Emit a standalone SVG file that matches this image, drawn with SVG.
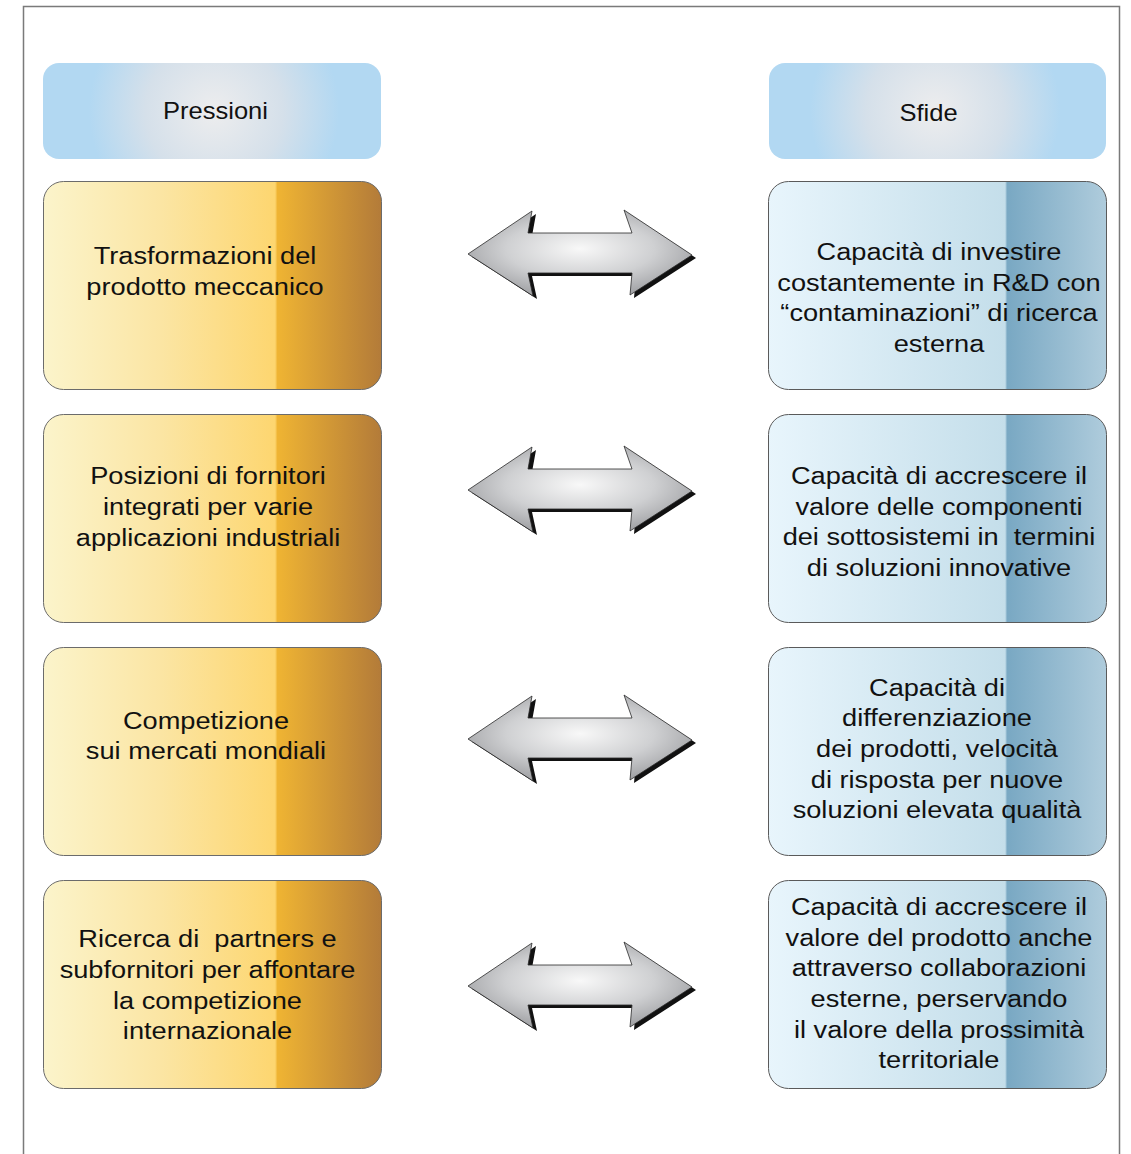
<svg xmlns="http://www.w3.org/2000/svg" xmlns:xlink="http://www.w3.org/1999/xlink" width="1131" height="1154" viewBox="0 0 1131 1154">
<defs>
  <style>
    .frame { fill: none; stroke: #7a7a7a; stroke-width: 1.5; }
    .hdr { stroke: none; }
    .pbox { fill: url(#gold); stroke: #6b6b6b; stroke-width: 1; }
    .sbox { fill: url(#blue); stroke: #5a5a5a; stroke-width: 1; }
    .txt { font-family: "Liberation Sans", Arial, sans-serif; font-size: 24.5px; fill: #111111; text-anchor: middle; white-space: pre; }
    .htxt { font-family: "Liberation Sans", Arial, sans-serif; font-size: 23px; fill: #111111; text-anchor: middle; }
    .arrow { fill: url(#steel); stroke: #2a2a2a; stroke-width: 0.8; stroke-linejoin: miter; }
    .shadow { fill: #111; }
  </style>
  <linearGradient id="gold" x1="0" y1="0" x2="1" y2="0">
    <stop offset="0" stop-color="#fbf4cb"/>
    <stop offset="0.35" stop-color="#fbe5a3"/>
    <stop offset="0.685" stop-color="#fdd670"/>
    <stop offset="0.692" stop-color="#efb433"/>
    <stop offset="1" stop-color="#b37b39"/>
  </linearGradient>
  <linearGradient id="blue" x1="0" y1="0" x2="1" y2="0">
    <stop offset="0" stop-color="#e8f5fc"/>
    <stop offset="0.70" stop-color="#c4deea"/>
    <stop offset="0.706" stop-color="#79a8c3"/>
    <stop offset="1" stop-color="#afccdc"/>
  </linearGradient>
  <radialGradient id="hdrL" gradientUnits="userSpaceOnUse" cx="214" cy="111" r="125">
    <stop offset="0" stop-color="#ededee"/>
    <stop offset="0.55" stop-color="#d5e0ea"/>
    <stop offset="1" stop-color="#b2d8f2"/>
  </radialGradient>
  <radialGradient id="hdrR" gradientUnits="userSpaceOnUse" cx="935" cy="111" r="125">
    <stop offset="0" stop-color="#ededee"/>
    <stop offset="0.55" stop-color="#d5e0ea"/>
    <stop offset="1" stop-color="#b2d8f2"/>
  </radialGradient>
  <radialGradient id="steel" cx="0.5" cy="0.45" r="0.55">
    <stop offset="0" stop-color="#f8f8f8"/>
    <stop offset="0.6" stop-color="#cfd0d2"/>
    <stop offset="1" stop-color="#a4a5a8"/>
  </radialGradient>
  <path id="arrowShape" d="M468,0 L532,-43 L528,-21 L632,-21 L624,-44 L692,1 L630,41 L632,19 L528,19 L533,42 Z"/>
</defs>

<rect x="0" y="0" width="1131" height="1154" fill="#ffffff"/>
<path class="frame" d="M23.5,1154 L23.5,6.5 L1119.5,6.5 L1119.5,1154"/>

<g id="header-pressioni">
  <rect class="hdr" x="43" y="63" width="338" height="96" rx="16" fill="url(#hdrL)"/>
  <text class="htxt" transform="translate(215.5 0) scale(1.11 1)"><tspan x="0" y="119">Pressioni</tspan></text>
</g>
<g id="header-sfide">
  <rect class="hdr" x="769" y="63" width="337" height="96" rx="16" fill="url(#hdrR)"/>
  <text class="htxt" transform="translate(928.5 0) scale(1.11 1)"><tspan x="0" y="121">Sfide</tspan></text>
</g>

<g id="pressione-1">
  <rect class="pbox" x="43.5" y="181.5" width="338" height="208" rx="20"/>
  <text class="txt" transform="translate(205 0) scale(1.11 1)"><tspan x="0" y="264">Trasformazioni del</tspan><tspan x="0" y="295">prodotto meccanico</tspan></text>
</g>
<g id="pressione-2">
  <rect class="pbox" x="43.5" y="414.5" width="338" height="208" rx="20"/>
  <text class="txt" transform="translate(208 0) scale(1.11 1)"><tspan x="0" y="484">Posizioni di fornitori</tspan><tspan x="0" y="515">integrati per varie</tspan><tspan x="0" y="546">applicazioni industriali</tspan></text>
</g>
<g id="pressione-3">
  <rect class="pbox" x="43.5" y="647.5" width="338" height="208" rx="20"/>
  <text class="txt" transform="translate(206 0) scale(1.11 1)"><tspan x="0" y="729">Competizione</tspan><tspan x="0" y="759">sui mercati mondiali</tspan></text>
</g>
<g id="pressione-4">
  <rect class="pbox" x="43.5" y="880.5" width="338" height="208" rx="20"/>
  <text class="txt" transform="translate(207.5 0) scale(1.11 1)"><tspan x="0" y="947">Ricerca di  partners e</tspan><tspan x="0" y="978">subfornitori per affontare</tspan><tspan x="0" y="1009">la competizione</tspan><tspan x="0" y="1039">internazionale</tspan></text>
</g>

<g id="sfida-1">
  <rect class="sbox" x="768.5" y="181.5" width="338" height="208" rx="20"/>
  <text class="txt" transform="translate(939 0) scale(1.11 1)"><tspan x="0" y="260">Capacità di investire</tspan><tspan x="0" y="291">costantemente in R&amp;D con</tspan><tspan x="0" y="321">“contaminazioni” di ricerca</tspan><tspan x="0" y="352">esterna</tspan></text>
</g>
<g id="sfida-2">
  <rect class="sbox" x="768.5" y="414.5" width="338" height="208" rx="20"/>
  <text class="txt" transform="translate(939 0) scale(1.11 1)"><tspan x="0" y="484">Capacità di accrescere il</tspan><tspan x="0" y="515">valore delle componenti</tspan><tspan x="0" y="545">dei sottosistemi in  termini</tspan><tspan x="0" y="576">di soluzioni innovative</tspan></text>
</g>
<g id="sfida-3">
  <rect class="sbox" x="768.5" y="647.5" width="338" height="208" rx="20"/>
  <text class="txt" transform="translate(937 0) scale(1.11 1)"><tspan x="0" y="696">Capacità di</tspan><tspan x="0" y="726">differenziazione</tspan><tspan x="0" y="757">dei prodotti, velocità</tspan><tspan x="0" y="788">di risposta per nuove</tspan><tspan x="0" y="818">soluzioni elevata qualità</tspan></text>
</g>
<g id="sfida-4">
  <rect class="sbox" x="768.5" y="880.5" width="338" height="208" rx="20"/>
  <text class="txt" transform="translate(939 0) scale(1.11 1)"><tspan x="0" y="915">Capacità di accrescere il</tspan><tspan x="0" y="946">valore del prodotto anche</tspan><tspan x="0" y="976">attraverso collaborazioni</tspan><tspan x="0" y="1007">esterne, perservando</tspan><tspan x="0" y="1038">il valore della prossimità</tspan><tspan x="0" y="1068">territoriale</tspan></text>
</g>

<g id="connectors">
  <g transform="translate(0 254)">
    <use xlink:href="#arrowShape" class="shadow" transform="translate(4 3)"/>
    <use xlink:href="#arrowShape" class="arrow"/>
  </g>
  <g transform="translate(0 490)">
    <use xlink:href="#arrowShape" class="shadow" transform="translate(4 3)"/>
    <use xlink:href="#arrowShape" class="arrow"/>
  </g>
  <g transform="translate(0 739)">
    <use xlink:href="#arrowShape" class="shadow" transform="translate(4 3)"/>
    <use xlink:href="#arrowShape" class="arrow"/>
  </g>
  <g transform="translate(0 986)">
    <use xlink:href="#arrowShape" class="shadow" transform="translate(4 3)"/>
    <use xlink:href="#arrowShape" class="arrow"/>
  </g>
</g>
</svg>
